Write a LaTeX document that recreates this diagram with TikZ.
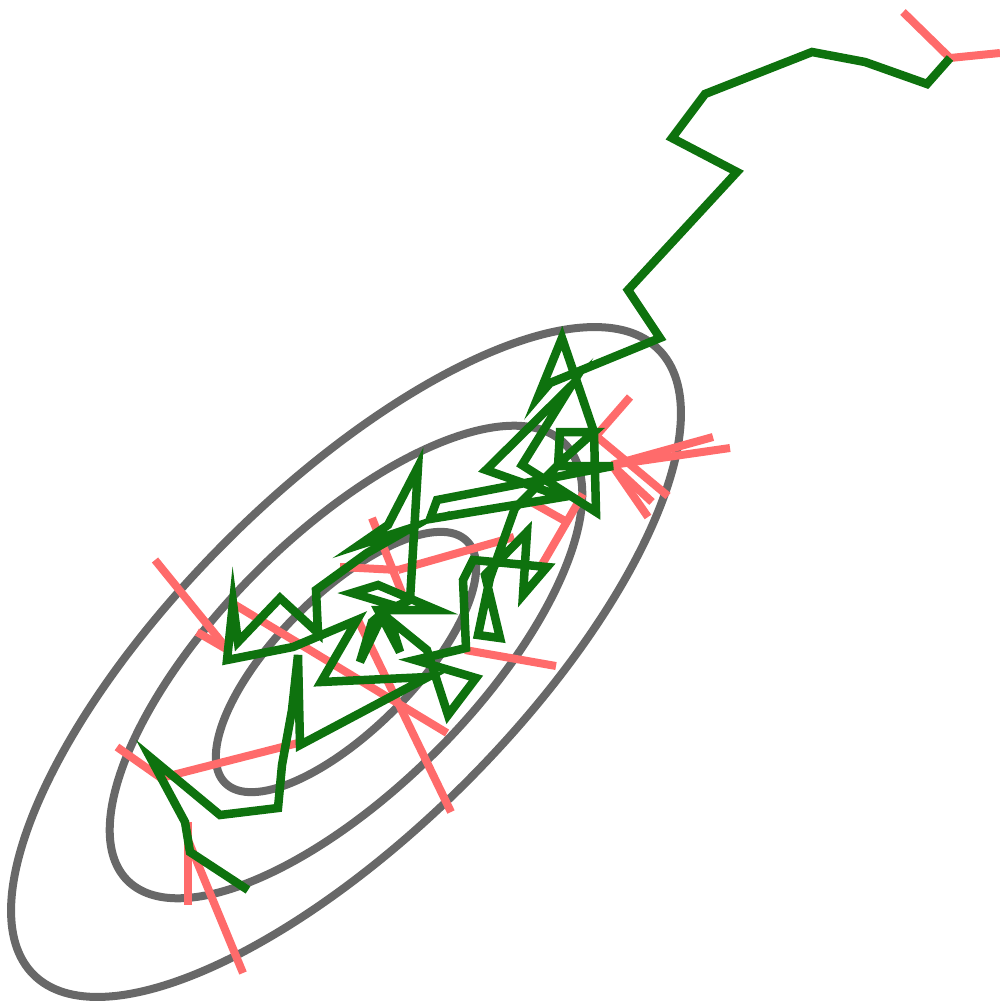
\documentclass[tikz,border=0pt]{standalone}
\definecolor{cgreen}{RGB}{14,114,14}
\definecolor{cred}{RGB}{255,107,107}
\definecolor{cgray}{RGB}{104,104,104}
\begin{document}
\begin{tikzpicture}[x=1pt,y=-1pt,
  contour/.style={draw=cgray,line width=8pt},
  reject/.style={draw=cred,line width=8pt},
  chain/.style={draw=cgreen,line width=8.5pt,line join=miter}]
\useasboundingbox (0,0) rectangle (1000,1001);
\coordinate (c) at (346,662);
\draw[contour,rotate around={45:(c)}] (c) ellipse [x radius=442pt, y radius=170pt];
\draw[contour,rotate around={45:(c)}] (c) ellipse [x radius=309pt, y radius=127pt];
\draw[contour,rotate around={45:(c)}] (c) ellipse [x radius=171pt, y radius=68pt];
% rejected proposals
\draw[reject] (950,58) -- (903,12);
\draw[reject] (950,58) -- (1000,53);
\draw[reject] (612,465) -- (713,437);
\draw[reject] (612,465) -- (730,448);
\draw[reject] (612,465) -- (652,502);
\draw[reject] (612,465) -- (648,517);
\draw[reject] (596,436) -- (630,397);
\draw[reject] (596,436) -- (668,496);
\draw[reject] (583,494) -- (540,568);
\draw[reject] (533,503) -- (567,522);
\draw[reject] (398,570) -- (340,567);
\draw[reject] (398,570) -- (514,537);
\draw[reject] (402,593) -- (372,518);
\draw[reject] (465,650) -- (556,666);
\draw[reject] (232,603) -- (447,733);
\draw[reject] (357,618) -- (451,812);
\draw[reject] (228,650) -- (155,560);
\draw[reject] (228,650) -- (197,632);
\draw[reject] (161,778) -- (117,747);
\draw[reject] (161,778) -- (298,743);
\draw[reject] (188,822) -- (188,905);
\draw[reject] (188,840) -- (243,973);
% accepted chain
\draw[chain] (950,58) -- (927,84) -- (865,62) -- (812,52) -- (705,94) -- (672,138)
 -- (737,172) -- (628,290) -- (660,338) -- (550,383) -- (538,397) -- (562,338)
 -- (594,432) -- (596,512) -- (522,465) -- (571,386) -- (486,470) -- (563,497)
 -- (430,519) -- (437,500) -- (613,466) -- (558,466) -- (560,432) -- (594,432)
 -- (565,458) -- (515,508) -- (490,578) -- (478,635) -- (500,638) -- (485,575)
 -- (527,532) -- (523,595) -- (547,567) -- (473,560) -- (463,580) -- (466,648)
 -- (415,660) -- (476,678) -- (448,715) -- (427,650) -- (390,620) -- (400,652)
 -- (378,610) -- (437,610) -- (378,585) -- (352,593) -- (392,605) -- (372,622)
 -- (360,662) -- (384,612) -- (410,600)
 -- (418,467) -- (388,525) -- (359,545) -- (411,528) -- (367,553) -- (316,590)
 -- (318,633) -- (280,598) -- (238,642) -- (233,603) -- (227,660) -- (293,647)
 -- (357,620) -- (321,682) -- (428,677) -- (300,745) -- (298,655) -- (292,710)
 -- (282,765) -- (278,808) -- (220,815) -- (150,757) -- (185,822) -- (190,852)
 -- (248,890);
\end{tikzpicture}
\end{document}
